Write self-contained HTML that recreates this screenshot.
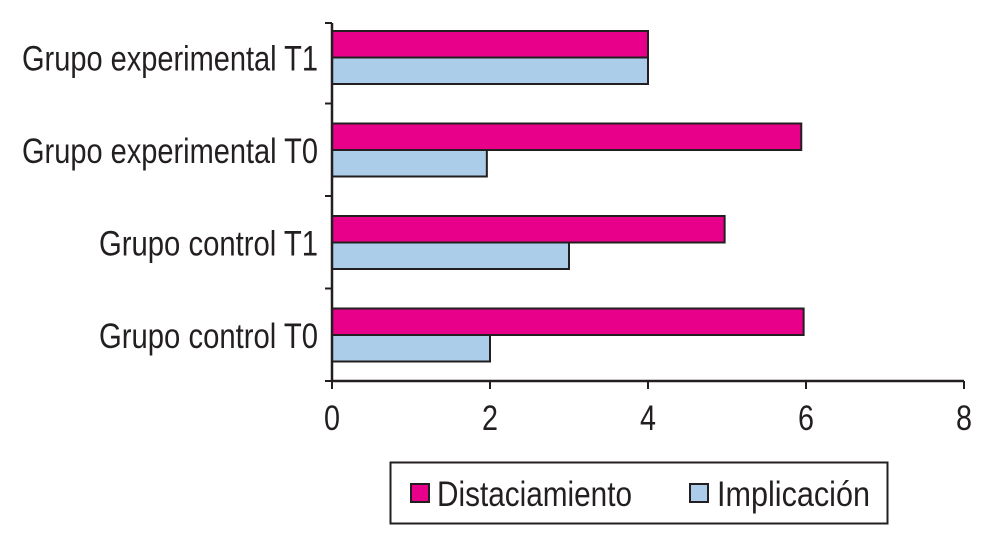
<!DOCTYPE html>
<html><head><meta charset="utf-8">
<style>
html,body{margin:0;padding:0;background:#fff;}
svg{display:block;}
text{font-family:"Liberation Sans Narrow","Liberation Sans",sans-serif;fill:#231f20;}
</style></head>
<body>
<svg id="chart" width="995" height="537" viewBox="0 0 995 537" xmlns="http://www.w3.org/2000/svg">
<g id="bars"></g>
<g id="axes"></g>
<g>
<rect x="390.5" y="462.5" width="497" height="61" fill="#fff" stroke="#231f20" stroke-width="2"/>
<rect x="411" y="484" width="18" height="18" fill="#e8008a" stroke="#231f20" stroke-width="2"/>
<text x="437" y="506" font-size="35" textLength="195" lengthAdjust="spacingAndGlyphs">Distaciamiento</text>
<rect x="690" y="484" width="18" height="18" fill="#abcdea" stroke="#231f20" stroke-width="2"/>
<text x="717" y="506" font-size="35" textLength="153" lengthAdjust="spacingAndGlyphs">Implicación</text>
</g>
</svg>
<script>
const categories = ["Grupo experimental T1","Grupo experimental T0","Grupo control T1","Grupo control T0"];
const distaciamiento = [4.0, 5.94, 4.97, 5.97];
const implicacion = [4.0, 1.96, 3.0, 2.0];
const xTicks = [0, 2, 4, 6, 8];

const NS = "http://www.w3.org/2000/svg";
const x0 = 332, x1 = 964, xMax = 8;
const yTop = 11, band = 92.5, yBottom = 381;
function xs(v){ return x0 + (x1 - x0) * v / xMax; }
function ys(i){ return yTop + band * i; }
function mk(tag, attrs){ const e = document.createElementNS(NS, tag); for (const k in attrs) e.setAttribute(k, attrs[k]); return e; }

const bars = document.getElementById('bars');
const axes = document.getElementById('axes');
categories.forEach((c, i) => {
  const y = ys(i) + 20;
  const h = 26.5;
  const r1 = mk('rect', {x: x0, y: y, width: xs(distaciamiento[i]) - x0, height: h, fill: '#e8008a', stroke: '#231f20', 'stroke-width': 2});
  
  
  bars.appendChild(r1);
  const r2 = mk('rect', {x: x0, y: y + h, width: xs(implicacion[i]) - x0, height: h, fill: '#abcdea', stroke: '#231f20', 'stroke-width': 2});
  
  
  bars.appendChild(r2);
  const w = c.indexOf('experimental') >= 0 ? 296 : 219;
  const t = mk('text', {x: 318 - w, y: y + h + 13, 'font-size': 35, textLength: w, lengthAdjust: 'spacingAndGlyphs'});
  t.textContent = c;
  
  
  axes.appendChild(t);
});
const ya = mk('line', {x1: x0, y1: 23, x2: x0, y2: yBottom, stroke: '#231f20', 'stroke-width': 2.5});


axes.appendChild(ya);
const yt = [23];
for (let i = 1; i < categories.length; i++) yt.push(ys(i));
yt.push(yBottom);
yt.forEach(v => {
  const l = mk('line', {x1: x0 - 7, y1: v, x2: x0, y2: v, stroke: '#231f20', 'stroke-width': 2});
  
  
  axes.appendChild(l);
});
const xa = mk('line', {x1: x0, y1: yBottom, x2: x1, y2: yBottom, stroke: '#231f20', 'stroke-width': 2.5});


axes.appendChild(xa);
xTicks.forEach(v => {
  const l = mk('line', {x1: xs(v), y1: yBottom, x2: xs(v), y2: yBottom + 8, stroke: '#231f20', 'stroke-width': 2});
  
  
  axes.appendChild(l);
  const t = mk('text', {x: xs(v) - 8, y: 430, 'font-size': 35, textLength: 16, lengthAdjust: 'spacingAndGlyphs'});
  t.textContent = v;
  
  
  axes.appendChild(t);
});
</script>
</body></html>
